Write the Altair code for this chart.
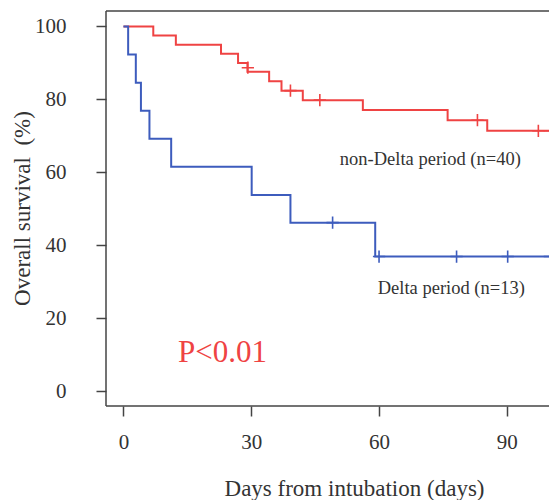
import altair as alt
import pandas as pd

# ---- data ----
# non-Delta period (n=40): event times (days) and survival (%) after each step
red_times = [0, 7.0, 12.3, 22.9, 26.9, 29.1, 34.2, 37.1, 42.1, 56.2, 76.1, 85.4]
red_surv = [100, 97.5, 95.0, 92.5, 90.0, 87.6, 85.0, 82.4, 79.8, 77.1, 74.3, 71.4]
red_censor_times = [29.2, 39.2, 46.1, 83.1, 97.4, 100.1]
red_censor_surv = [88.7, 82.4, 79.8, 74.3, 71.4, 71.4]

# Delta period (n=13)
blue_times = [0, 1.1, 2.9, 4.1, 6.1, 11.2, 30.1, 39.2, 59.1]
blue_surv = [100, 92.3, 84.6, 76.9, 69.2, 61.5, 53.8, 46.2, 36.9]
blue_censor_times = [49.1, 60.0, 78.2, 90.2, 100.1]
blue_censor_surv = [46.2, 36.9, 36.9, 36.9, 36.9]

follow_up_end = 102

x_ticks = [0, 30, 60, 90]
y_ticks = [0, 20, 40, 60, 80, 100]

RED = "#ef4343"
BLUE = "#3d5cbd"
FONT = "Liberation Serif"
TXT = "#333333"
AX = "#444444"

W, H = 443, 395


def step_df(t, s):
    return pd.DataFrame({"t": t + [follow_up_end], "s": s + [s[-1]]})


red_df = step_df(red_times, red_surv)
blue_df = step_df(blue_times, blue_surv)
red_c = pd.DataFrame({"t": red_censor_times, "s": red_censor_surv})
blue_c = pd.DataFrame({"t": blue_censor_times, "s": blue_censor_surv})

xs = alt.Scale(domain=[-4.1, 99.9], nice=False, zero=False)
ys = alt.Scale(domain=[-4.1, 104.25], nice=False, zero=False)

x_axis = alt.Axis(
    values=x_ticks, domain=False, grid=False, tickSize=10, tickColor=AX, tickWidth=1.5,
    labelFont=FONT, labelFontSize=21, labelColor=TXT, labelPadding=15, labelFlush=False,
    title="Days from intubation (days)", titleFont=FONT, titleFontSize=23,
    titleFontWeight="normal", titleColor=TXT, titleX=248, titleY=89,
    titleBaseline="alphabetic", titleAlign="center",
)
y_axis = alt.Axis(
    values=y_ticks, domain=False, grid=False, tickSize=10, tickColor=AX, tickWidth=1.5,
    labelFont=FONT, labelFontSize=21, labelColor=TXT, labelPadding=30, labelFlush=False,
    title="Overall survival\u00a0 (%)", titleFont=FONT, titleFontSize=23,
    titleFontWeight="normal", titleColor=TXT, titleAngle=270, titleX=-77, titleY=197,
    titleBaseline="alphabetic", titleAlign="center",
)

X = alt.X("t:Q", scale=xs, axis=x_axis)
Y = alt.Y("s:Q", scale=ys, axis=y_axis)

red_line = alt.Chart(red_df).mark_line(
    interpolate="step-after", color=RED, strokeWidth=2, clip=True
).encode(x=X, y=Y)
blue_line = alt.Chart(blue_df).mark_line(
    interpolate="step-after", color=BLUE, strokeWidth=2, clip=True
).encode(x=X, y=Y)

PLUS = "M-1,0L1,0M0,-1L0,1"
red_cens = alt.Chart(red_c).mark_point(
    shape=PLUS, size=150, filled=False, color=RED, strokeWidth=1.6, opacity=1
).encode(x=X, y=Y)
blue_cens = alt.Chart(blue_c).mark_point(
    shape=PLUS, size=150, filled=False, color=BLUE, strokeWidth=1.6, opacity=1
).encode(x=X, y=Y)

labels = pd.DataFrame({
    "t": [50.8, 59.7],
    "s": [63.6, 28.3],
    "txt": ["non-Delta period (n=40)", "Delta period (n=13)"],
})
label_text = alt.Chart(labels).mark_text(
    align="left", baseline="middle", font=FONT, fontSize=18.5, color=TXT
).encode(x=X, y=Y, text="txt:N")

pval = pd.DataFrame({"t": [12.8], "s": [10.4], "txt": ["P<0.01"]})
p_text = alt.Chart(pval).mark_text(
    align="left", baseline="middle", font=FONT, fontSize=31, color=RED
).encode(x=X, y=Y, text="txt:N")

# plot frame (left, top, bottom; right edge lies beyond the picture)
frame_left = alt.Chart().mark_rule(color=AX, strokeWidth=1.5).encode(
    x=alt.value(0), y=alt.value(0), y2=alt.value(H))
frame_top = alt.Chart().mark_rule(color=AX, strokeWidth=1.5).encode(
    x=alt.value(0), x2=alt.value(W), y=alt.value(0))
frame_bottom = alt.Chart().mark_rule(color=AX, strokeWidth=1.5).encode(
    x=alt.value(0), x2=alt.value(W), y=alt.value(H))

chart = alt.layer(
    red_line, red_cens, blue_line, blue_cens, label_text, p_text,
    frame_left, frame_top, frame_bottom,
).properties(
    width=W, height=H,
    autosize="none",
    padding={"left": 98, "top": 3, "right": 0, "bottom": 94},
    background="white",
).configure_view(
    stroke=None, fill="white"
)

chart.save("out.html", embed_options={"renderer": "svg", "actions": False})
